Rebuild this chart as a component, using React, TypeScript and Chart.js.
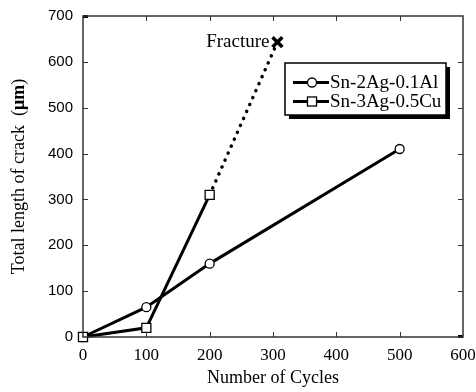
import React, { useEffect, useRef } from 'react';
import { Chart, registerables } from 'chart.js';

Chart.register(...registerables);

const alCycles = [0, 100, 200, 500];
const alCrack = [0, 65, 160, 410];
const cuCycles = [0, 100, 200];
const cuCrack = [0, 20, 310];
const fractureCycles = [200, 307];
const fractureCrack = [310, 643];
const seriesLabels = ['Sn-2Ag-0.1Al', 'Sn-3Ag-0.5Cu'];
const fractureLabel = 'Fracture';
const xTitle = 'Number of Cycles';
const yTitleMain = 'Total length of crack  (';
const yTitleUnit = 'μm';
const yTitleEnd = ')';
const xMin = 0, xMax = 600, xStep = 100;
const yMin = 0, yMax = 700, yStep = 100;

const SERIF = '"Liberation Serif", "Times New Roman", serif';
const SANS = '"Liberation Sans", Arial, sans-serif';

const toPts = (xs: number[], ys: number[]) => xs.map((x, i) => ({ x, y: ys[i] }));

const decorPlugin = {
  id: 'decor',
  afterDraw(chart: any) {
    const { ctx, chartArea: a, scales } = chart;
    const xs = scales.x, ys = scales.y;
    ctx.save();
    // inward ticks
    ctx.strokeStyle = '#333';
    ctx.lineWidth = 1;
    const tl = 5;
    ctx.beginPath();
    for (let v = xMin + xStep; v < xMax; v += xStep) {
      const px = Math.round(xs.getPixelForValue(v)) + 0.5;
      ctx.moveTo(px, a.bottom); ctx.lineTo(px, a.bottom - tl);
      ctx.moveTo(px, a.top); ctx.lineTo(px, a.top + tl);
    }
    for (let v = yMin + yStep; v < yMax; v += yStep) {
      const py = Math.round(ys.getPixelForValue(v)) + 0.5;
      ctx.moveTo(a.left, py); ctx.lineTo(a.left + tl, py);
      ctx.moveTo(a.right, py); ctx.lineTo(a.right - tl, py);
    }
    ctx.stroke();
    // corner marks
    ctx.lineWidth = 3;
    ctx.strokeStyle = '#000';
    ctx.beginPath();
    ctx.moveTo(a.left, a.top + 0.5); ctx.lineTo(a.left + 5, a.top + 0.5);
    ctx.moveTo(a.right, a.bottom - 0.5); ctx.lineTo(a.right - 5, a.bottom - 0.5);
    ctx.stroke();
    // frame
    ctx.strokeStyle = '#333';
    ctx.lineWidth = 1.5;
    ctx.strokeRect(a.left, a.top, a.right - a.left, a.bottom - a.top);

    // fracture label
    const fx = xs.getPixelForValue(fractureCycles[1]);
    const fy = ys.getPixelForValue(fractureCrack[1]);
    ctx.fillStyle = '#000';
    ctx.font = `19px ${SERIF}`;
    ctx.textAlign = 'right';
    ctx.textBaseline = 'middle';
    ctx.fillText(fractureLabel, fx - 8, fy);

    // legend
    const lx = a.left + 202, ly = a.top + 47, lw = 161, lh = 52;
    ctx.fillStyle = '#000';
    ctx.fillRect(lx + 4, ly + 4, lw, lh);
    ctx.fillStyle = '#fff';
    ctx.fillRect(lx, ly, lw, lh);
    ctx.strokeStyle = '#000';
    ctx.lineWidth = 1.5;
    ctx.strokeRect(lx, ly, lw, lh);
    const styles = ['circle', 'rect'];
    const radii = [4.5, 6.4];
    seriesLabels.forEach((lab, i) => {
      const ey = ly + 19.5 + i * 19;
      ctx.strokeStyle = '#000';
      ctx.lineWidth = 3;
      ctx.beginPath();
      ctx.moveTo(lx + 8, ey); ctx.lineTo(lx + 44, ey);
      ctx.stroke();
      ctx.fillStyle = '#fff';
      ctx.lineWidth = 1.3;
      const mx = lx + 27;
      if (styles[i] === 'circle') {
        ctx.beginPath(); ctx.arc(mx, ey, radii[i], 0, Math.PI * 2); ctx.fill(); ctx.stroke();
      } else {
        const s = radii[i] / Math.SQRT2;
        ctx.fillRect(mx - s, ey - s, 2 * s, 2 * s);
        ctx.strokeRect(mx - s, ey - s, 2 * s, 2 * s);
      }
      ctx.fillStyle = '#000';
      ctx.font = `19px ${SERIF}`;
      ctx.textAlign = 'left';
      ctx.textBaseline = 'middle';
      ctx.fillText(lab, lx + 45, ey + 1);
    });

    // y title with bold unit
    const cy = (a.top + a.bottom) / 2;
    ctx.translate(19, cy);
    ctx.rotate(-Math.PI / 2);
    ctx.textBaseline = 'middle';
    ctx.textAlign = 'left';
    const fN = `18px ${SERIF}`, fB = `bold 18px ${SERIF}`;
    ctx.font = fN; const w1 = ctx.measureText(yTitleMain).width; const w3 = ctx.measureText(yTitleEnd).width;
    ctx.font = fB; const w2 = ctx.measureText(yTitleUnit).width;
    let sx = -(w1 + w2 + w3) / 2;
    ctx.fillStyle = '#000';
    ctx.font = fN; ctx.fillText(yTitleMain, sx, 0); sx += w1;
    ctx.font = fB; ctx.fillText(yTitleUnit, sx, 0); sx += w2;
    ctx.font = fN; ctx.fillText(yTitleEnd, sx, 0);
    ctx.restore();
  },
};

export default function App() {
  const ref = useRef<HTMLCanvasElement>(null);
  useEffect(() => {
    if (!ref.current) return;
    const chart = new Chart(ref.current, {
      type: 'line',
      data: {
        datasets: [
          {
            label: seriesLabels[1],
            data: toPts(cuCycles, cuCrack),
            borderColor: '#000',
            borderWidth: 3,
            pointStyle: 'rect',
            pointRadius: 6.4,
            pointBackgroundColor: '#fff',
            pointBorderColor: '#000',
            pointBorderWidth: 1.3,
            order: 0,
            clip: false,
          } as any,
          {
            label: seriesLabels[0],
            data: toPts(alCycles, alCrack),
            borderColor: '#000',
            borderWidth: 3,
            pointStyle: 'circle',
            pointRadius: 4.5,
            pointBackgroundColor: '#fff',
            pointBorderColor: '#000',
            pointBorderWidth: 1.3,
            order: 1,
            clip: false,
          } as any,
          {
            label: fractureLabel,
            data: toPts(fractureCycles, fractureCrack),
            borderColor: '#000',
            borderWidth: 3.5,
            borderDash: [0.1, 7.5],
            borderCapStyle: 'round',
            pointStyle: ['rect', 'crossRot'] as any,
            pointRadius: [0, 7],
            pointBorderColor: '#000',
            pointBorderWidth: 3.5,
            order: 2,
            clip: false,
          } as any,
        ],
      },
      options: {
        animation: false,
        responsive: false,
        events: [],
        layout: { padding: { top: 16, right: 13, left: 0, bottom: 0 } },
        plugins: { legend: { display: false }, tooltip: { enabled: false } },
        scales: {
          x: {
            type: 'linear',
            min: xMin,
            max: xMax,
            ticks: { stepSize: xStep, color: '#000', font: { family: SERIF, size: 17 }, padding: 8, maxRotation: 0 },
            grid: { display: false, drawTicks: false },
            border: { display: false },
            title: { display: true, text: xTitle, color: '#000', font: { family: SERIF, size: 18 }, padding: { top: 0, bottom: 3 } },
            afterFit: (s: any) => { s.height = 55; s.paddingLeft = 0; s.paddingRight = 0; },
          },
          y: {
            type: 'linear',
            min: yMin,
            max: yMax,
            ticks: { stepSize: yStep, color: '#000', font: { family: SANS, size: 15 }, padding: 10 },
            grid: { display: false, drawTicks: false },
            border: { display: false },
            afterFit: (s: any) => { s.width = 83; s.paddingTop = 0; s.paddingBottom = 0; },
          },
        },
      } as any,
      plugins: [decorPlugin],
    });
    return () => chart.destroy();
  }, []);
  return (
    <div style={{ position: 'absolute', left: 0, top: 0, width: 476, height: 392, background: '#fff' }}>
      <canvas ref={ref} width={476} height={392} />
    </div>
  );
}
